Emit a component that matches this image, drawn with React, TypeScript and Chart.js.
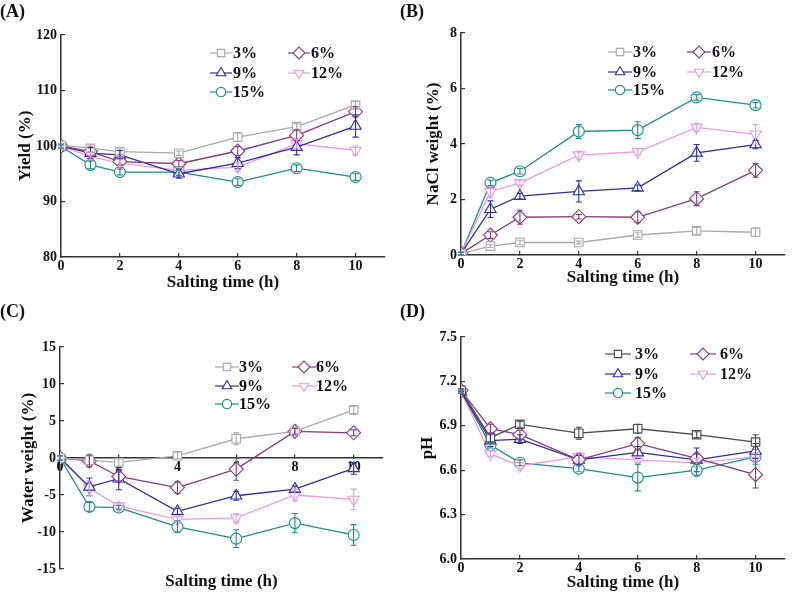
import React, { useEffect, useRef } from "react";
import { Chart, registerables } from "chart.js";

Chart.register(...registerables);

const times = [0, 1, 2, 4, 6, 8, 10];
const seriesLabels = ["3%", "6%", "9%", "12%", "15%"];
const xTicks = [0, 2, 4, 6, 8, 10];

// (A) Yield (%)
const yieldTicks = [80, 90, 100, 110, 120];
const yield3 = [100.1, 99.6, 99.0, 98.7, 101.6, 103.5, 107.4];
const yield6 = [100.0, 99.0, 97.2, 96.8, 99.1, 101.9, 106.2];
const yield9 = [100.0, 98.7, 98.4, 95.0, 96.9, 99.8, 103.6];
const yield12 = [100.0, 98.1, 96.9, 95.6, 96.2, 100.4, 99.2];
const yield15 = [99.9, 96.6, 95.3, 95.3, 93.5, 96.0, 94.4];
const yieldErr3 = [0.3, 0.6, 0.5, 0.4, 0.8, 0.5, 0.6];
const yieldErr6 = [0.3, 0.8, 0.6, 0.6, 0.8, 1.0, 0.9];
const yieldErr9 = [0.3, 1.0, 0.8, 0.8, 1.0, 1.4, 2.0];
const yieldErr12 = [0.3, 0.8, 0.6, 0.5, 0.8, 0.8, 0.8];
const yieldErr15 = [0.3, 0.7, 0.5, 0.6, 0.6, 0.6, 0.6];

// (B) NaCl weight (%)
const naclTicks = [0, 2, 4, 6, 8];
const nacl3 = [0.05, 0.32, 0.45, 0.45, 0.72, 0.87, 0.82];
const nacl6 = [0.05, 0.72, 1.36, 1.38, 1.36, 2.03, 3.05];
const nacl9 = [0.05, 1.65, 2.12, 2.29, 2.42, 3.68, 3.98];
const nacl12 = [0.05, 2.28, 2.6, 3.6, 3.72, 4.6, 4.35];
const nacl15 = [0.05, 2.6, 3.02, 4.45, 4.5, 5.68, 5.4];
const naclErr3 = [0.05, 0.05, 0.08, 0.05, 0.08, 0.12, 0.15];
const naclErr6 = [0.05, 0.12, 0.25, 0.08, 0.2, 0.25, 0.25];
const naclErr9 = [0.05, 0.3, 0.1, 0.38, 0.1, 0.3, 0.15];
const naclErr12 = [0.05, 0.2, 0.1, 0.15, 0.12, 0.15, 0.35];
const naclErr15 = [0.05, 0.1, 0.1, 0.25, 0.3, 0.1, 0.1];

// (C) Water weight (%)
const waterTicks = [-15, -10, -5, 0, 5, 10, 15];
const water3 = [0, -0.3, -0.6, 0.3, 2.6, 3.6, 6.5];
const water6 = [0, -0.4, -2.5, -4.0, -1.5, 3.6, 3.4];
const water9 = [0, -3.9, -2.8, -7.2, -5.1, -4.2, -1.4];
const water12 = [0, -4.1, -6.5, -8.3, -8.1, -5.0, -5.6];
const water15 = [0, -6.6, -6.7, -9.3, -10.9, -8.8, -10.4];
const waterErr3 = [0.3, 0.8, 0.5, 0.4, 0.8, 0.4, 0.5];
const waterErr6 = [0.3, 0.8, 0.6, 0.8, 1.5, 0.4, 0.4];
const waterErr9 = [0.3, 1.2, 1.5, 0.4, 0.6, 0.4, 0.8];
const waterErr12 = [0.3, 1.0, 0.4, 0.5, 0.6, 0.8, 1.4];
const waterErr15 = [0.3, 0.6, 0.3, 0.8, 1.2, 1.3, 1.4];

// (D) pH
const phTicks = [6.0, 6.3, 6.6, 6.9, 7.2, 7.5];
const ph3 = [7.14, 6.82, 6.91, 6.85, 6.88, 6.84, 6.79];
const ph6 = [7.14, 6.88, 6.84, 6.67, 6.78, 6.68, 6.57];
const ph9 = [7.13, 6.8, 6.81, 6.67, 6.72, 6.67, 6.73];
const ph12 = [7.13, 6.71, 6.63, 6.69, 6.67, 6.65, 6.69];
const ph15 = [7.13, 6.77, 6.65, 6.61, 6.55, 6.6, 6.69];
const phErr3 = [0.01, 0.03, 0.02, 0.04, 0.03, 0.02, 0.05];
const phErr6 = [0.01, 0.03, 0.03, 0.03, 0.04, 0.03, 0.09];
const phErr9 = [0.01, 0.04, 0.03, 0.03, 0.04, 0.08, 0.05];
const phErr12 = [0.01, 0.02, 0.02, 0.03, 0.02, 0.03, 0.03];
const phErr15 = [0.01, 0.02, 0.02, 0.02, 0.09, 0.04, 0.05];

const colorsABC = ["#a9a9a9", "#8a3a7c", "#2e2e9e", "#e79be3", "#1f8c8c"];
const colorsD = ["#4a4a4a", "#8a3a7c", "#2e2e9e", "#e79be3", "#1f8c8c"];
const pointStyles = ["rect", "rectRot", "triangle", "triangle", "circle"];
const pointRotations = [0, 0, 0, 180, 0];
const pointRadii = [6, 7, 6.5, 6.5, 5.5];

const FONT = '"Liberation Serif", "Times New Roman", serif';
const AXIS = "#333333";
const TICK_IN = 4;

function drawMarker(ctx: CanvasRenderingContext2D, style: string, rot: number, x: number, y: number, r: number, color: string) {
  ctx.save();
  ctx.translate(x, y);
  ctx.rotate((rot * Math.PI) / 180);
  ctx.beginPath();
  if (style === "rect") {
    const s = r * 0.72;
    ctx.rect(-s, -s, 2 * s, 2 * s);
  } else if (style === "rectRot") {
    ctx.moveTo(0, -r);
    ctx.lineTo(r, 0);
    ctx.lineTo(0, r);
    ctx.lineTo(-r, 0);
    ctx.closePath();
  } else if (style === "triangle") {
    ctx.moveTo(0, -r);
    ctx.lineTo(r * 0.87, r * 0.5);
    ctx.lineTo(-r * 0.87, r * 0.5);
    ctx.closePath();
  } else {
    ctx.arc(0, 0, r, 0, Math.PI * 2);
  }
  ctx.fillStyle = "#ffffff";
  ctx.fill();
  ctx.strokeStyle = color;
  ctx.lineWidth = 1.1;
  ctx.stroke();
  ctx.restore();
}

const errorBarPlugin = {
  id: "errorBars",
  afterDatasetsDraw(chart: any) {
    const ctx = chart.ctx;
    const yScale = chart.scales.y;
    ctx.save();
    chart.data.datasets.forEach((ds: any, i: number) => {
      const meta = chart.getDatasetMeta(i);
      ctx.strokeStyle = ds.borderColor;
      ctx.lineWidth = 1.1;
      meta.data.forEach((pt: any, j: number) => {
        const v = ds.data[j].y;
        const e = ds.errors[j];
        const yt = yScale.getPixelForValue(v + e);
        const yb = yScale.getPixelForValue(v - e);
        ctx.beginPath();
        ctx.moveTo(pt.x, yt);
        ctx.lineTo(pt.x, yb);
        ctx.moveTo(pt.x - 3, yt);
        ctx.lineTo(pt.x + 3, yt);
        ctx.moveTo(pt.x - 3, yb);
        ctx.lineTo(pt.x + 3, yb);
        ctx.stroke();
      });
    });
    ctx.restore();
  },
};

const boxLegendPlugin = {
  id: "boxLegend",
  afterDraw(chart: any, _args: any, opts: any) {
    const ctx = chart.ctx;
    ctx.save();
    chart.data.datasets.forEach((ds: any, i: number) => {
      const col = i % 2;
      const row = Math.floor(i / 2);
      const x = opts.cols[col];
      const y = opts.rows[row];
      ctx.strokeStyle = ds.borderColor;
      ctx.lineWidth = 1.2;
      ctx.beginPath();
      ctx.moveTo(x, y);
      ctx.lineTo(x + opts.lineLen, y);
      ctx.stroke();
      drawMarker(ctx, ds.pointStyle, ds.pointRotation || 0, x + opts.lineLen / 2, y, ds.pointRadius * 0.85, ds.borderColor);
      ctx.fillStyle = "#111111";
      ctx.font = `bold 16px ${FONT}`;
      ctx.textBaseline = "middle";
      ctx.textAlign = "left";
      ctx.fillText(ds.label, x + opts.textDx, y + 1);
    });
    ctx.restore();
  },
};

type PanelProps = {
  tag: string;
  left: number;
  top: number;
  width: number;
  height: number;
  yTitle: string;
  yTicks: number[];
  decimals: number;
  series: number[][];
  errors: number[][];
  colors: string[];
  padTop: number;
  padRight: number;
  yWidth: number;
  xHeight: number;
  xAtZero?: boolean;
  yTitlePad: number;
  xTitlePad: number;
  legendCols: number[];
  legendRows: number[];
  legendTextDx: number;
  legendLineLen: number;
};

function Panel(p: PanelProps) {
  const ref = useRef<HTMLCanvasElement | null>(null);
  useEffect(() => {
    if (!ref.current) return;
    const tickFont = { family: FONT, weight: "bold" as const, size: 14 };
    const titleFont = { family: FONT, weight: "bold" as const, size: 17 };
    const datasets = p.series.map((vals, i) => ({
      label: seriesLabels[i],
      data: times.map((t, j) => ({ x: t, y: vals[j] })),
      errors: p.errors[i],
      borderColor: p.colors[i],
      backgroundColor: "#ffffff",
      pointBackgroundColor: "#ffffff",
      pointBorderColor: p.colors[i],
      pointBorderWidth: 1.1,
      pointStyle: pointStyles[i],
      pointRotation: pointRotations[i],
      pointRadius: pointRadii[i],
      borderWidth: 1.3,
      tension: 0,
      fill: false,
    }));
    const xScale: any = {
      type: "linear",
      min: 0,
      max: 11,
      position: p.xAtZero ? { y: 0 } : "bottom",
      afterBuildTicks: (s: any) => {
        s.ticks = xTicks.map((v) => ({ value: v }));
      },
      grid: { display: true, drawOnChartArea: false, drawTicks: true, tickLength: -TICK_IN, color: AXIS, lineWidth: 1.2 },
      border: { display: true, color: AXIS, width: 1.5 },
      ticks: { font: tickFont, color: "#111111", padding: TICK_IN + 1, maxRotation: 0, autoSkip: false },
      title: {
        display: !p.xAtZero,
        text: "Salting time (h)",
        font: titleFont,
        color: "#111111",
        padding: { top: 0, bottom: p.xTitlePad },
      },
    };
    if (!p.xAtZero) {
      xScale.afterFit = (s: any) => {
        s.height = p.xHeight;
      };
    }
    const scales: any = {
      x: xScale,
      y: {
        type: "linear",
        position: "left",
        min: p.yTicks[0],
        max: p.yTicks[p.yTicks.length - 1],
        afterBuildTicks: (s: any) => {
          s.ticks = p.yTicks.map((v) => ({ value: v }));
        },
        afterFit: (s: any) => {
          s.width = p.yWidth;
        },
        grid: { display: true, drawOnChartArea: false, drawTicks: true, tickLength: -TICK_IN, color: AXIS, lineWidth: 1.2 },
        border: { display: true, color: AXIS, width: 1.5 },
        ticks: {
          font: tickFont,
          color: "#111111",
          padding: TICK_IN + 4,
          callback: (v: any) => Number(v).toFixed(p.decimals),
        },
        title: {
          display: true,
          text: p.yTitle,
          font: titleFont,
          color: "#111111",
          padding: { top: p.yTitlePad, bottom: 0 },
        },
      },
    };
    if (p.xAtZero) {
      scales.xt = {
        type: "linear",
        position: "bottom",
        min: 0,
        max: 11,
        afterFit: (s: any) => {
          s.height = p.xHeight;
        },
        grid: { display: false },
        border: { display: false },
        ticks: { display: false },
        title: {
          display: true,
          text: "Salting time (h)",
          font: titleFont,
          color: "#111111",
          padding: { top: 0, bottom: p.xTitlePad },
        },
      };
    }
    const chart = new Chart(ref.current, {
      type: "line",
      data: { datasets } as any,
      options: {
        animation: false,
        responsive: false,
        maintainAspectRatio: false,
        devicePixelRatio: 1,
        layout: { padding: { top: p.padTop, right: p.padRight, left: 0, bottom: 0 } },
        plugins: {
          legend: { display: false },
          tooltip: { enabled: false },
          boxLegend: {
            cols: p.legendCols,
            rows: p.legendRows,
            textDx: p.legendTextDx,
            lineLen: p.legendLineLen,
          },
        } as any,
        scales,
      },
      plugins: [errorBarPlugin, boxLegendPlugin],
    } as any);
    return () => chart.destroy();
  }, []);
  return (
    <div style={{ position: "absolute", left: p.left, top: p.top, width: p.width, height: p.height }}>
      <canvas ref={ref} width={p.width} height={p.height} style={{ width: p.width, height: p.height, display: "block" }} />
      <div
        style={{
          position: "absolute",
          left: 0,
          top: 0,
          font: `bold 18px ${FONT}`,
          lineHeight: "22px",
          color: "#111111",
        }}
      >
        {p.tag}
      </div>
    </div>
  );
}

export default function App() {
  return (
    <div style={{ position: "fixed", left: 0, top: 0, width: 799, height: 607, background: "#ffffff", overflow: "hidden" }}>
      <Panel
        tag="(A)"
        left={0}
        top={0}
        width={400}
        height={300}
        yTitle="Yield (%)"
        yTicks={yieldTicks}
        decimals={0}
        series={[yield3, yield6, yield9, yield12, yield15]}
        errors={[yieldErr3, yieldErr6, yieldErr9, yieldErr12, yieldErr15]}
        colors={colorsABC}
        padTop={35}
        padRight={15}
        yWidth={61}
        xHeight={43}
        yTitlePad={15}
        xTitlePad={7}
        legendCols={[210, 288]}
        legendRows={[53, 73, 92]}
        legendTextDx={23}
        legendLineLen={22}
      />
      <Panel
        tag="(B)"
        left={400}
        top={0}
        width={399}
        height={300}
        yTitle="NaCl weight (%)"
        yTicks={naclTicks}
        decimals={0}
        series={[nacl3, nacl6, nacl9, nacl12, nacl15]}
        errors={[naclErr3, naclErr6, naclErr9, naclErr12, naclErr15]}
        colors={colorsABC}
        padTop={33}
        padRight={14}
        yWidth={61}
        xHeight={45}
        yTitlePad={23}
        xTitlePad={12}
        legendCols={[208, 287]}
        legendRows={[52, 72, 90]}
        legendTextDx={25}
        legendLineLen={24}
      />
      <Panel
        tag="(C)"
        left={0}
        top={300}
        width={400}
        height={307}
        yTitle="Water weight (%)"
        yTicks={waterTicks}
        decimals={0}
        series={[water3, water6, water9, water12, water15]}
        errors={[waterErr3, waterErr6, waterErr9, waterErr12, waterErr15]}
        colors={colorsABC}
        padTop={47}
        padRight={17}
        yWidth={60}
        xHeight={38}
        xAtZero={true}
        yTitlePad={18}
        xTitlePad={15}
        legendCols={[215, 292]}
        legendRows={[67, 86, 104]}
        legendTextDx={24}
        legendLineLen={24}
      />
      <Panel
        tag="(D)"
        left={400}
        top={300}
        width={399}
        height={307}
        yTitle="pH"
        yTicks={phTicks}
        decimals={1}
        series={[ph3, ph6, ph9, ph12, ph15]}
        errors={[phErr3, phErr6, phErr9, phErr12, phErr15]}
        colors={colorsD}
        padTop={37}
        padRight={14}
        yWidth={61}
        xHeight={48}
        yTitlePad={17}
        xTitlePad={14}
        legendCols={[205, 290]}
        legendRows={[54, 74, 93]}
        legendTextDx={30}
        legendLineLen={26}
      />
    </div>
  );
}
